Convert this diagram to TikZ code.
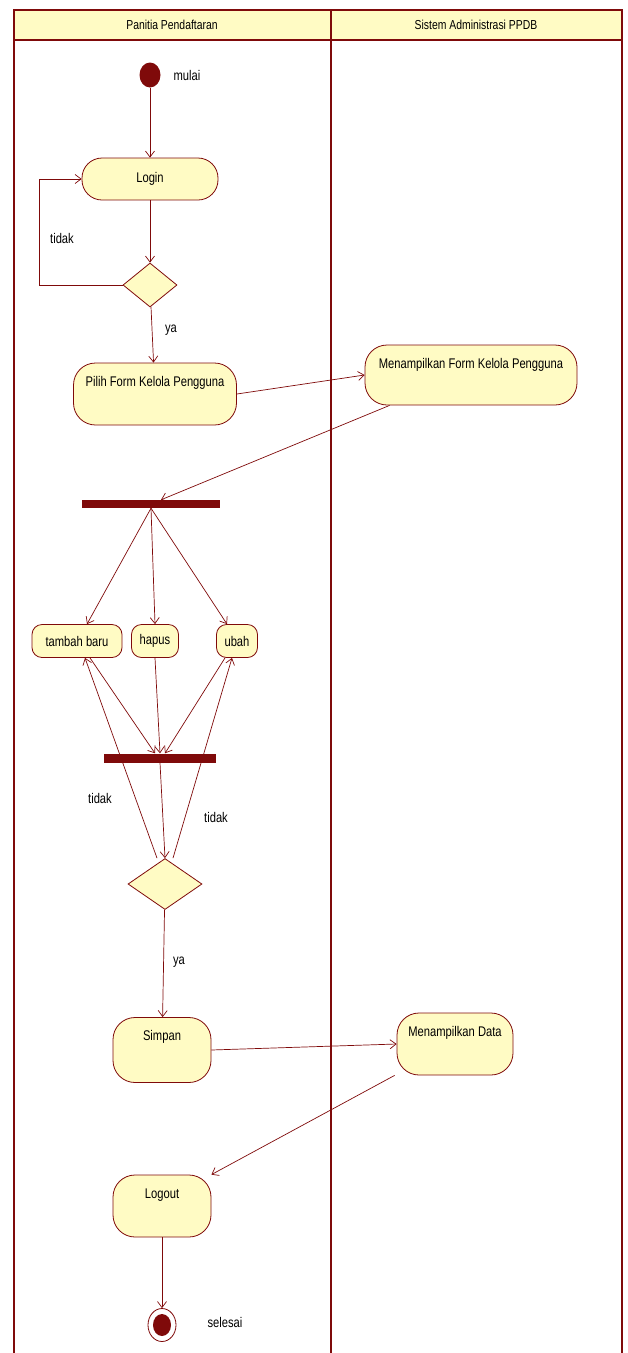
\documentclass[tikz,border=0pt]{standalone}
\usepackage{fontspec}
\setmainfont{Liberation Sans}[FakeStretch=0.8]
\usetikzlibrary{shapes.geometric,arrows.meta}
\definecolor{umlred}{HTML}{7F0A0A}
\definecolor{umlfill}{HTML}{FFFBC4}
\tikzset{
  action/.style={draw=umlred, line width=0.8pt, fill=umlfill, rounded corners=#1,
    inner xsep=3pt, inner ysep=4pt, font=\fontsize{14}{16}\selectfont},
  action/.default=12pt,
  tallact/.style={action=#1, text height=19pt},
  decision/.style={diamond, draw=umlred, line width=0.8pt, fill=umlfill, inner sep=0pt},
  bar/.style={fill=umlred, inner sep=0pt},
  flow/.style={draw=umlred, color=umlred, line width=0.7pt,
    -{Straight Barb[length=6pt,width=9pt]}},
  guard/.style={font=\fontsize{14}{16}\selectfont},
}
\begin{document}
\begin{tikzpicture}[x=1pt,y=-1pt]
\useasboundingbox (0,0) rectangle (628,1353);
% swimlanes
\fill[umlfill] (14,10) rectangle (622,40);
\draw[umlred, line width=2.8pt] (14,1353) -- (14,10) -- (622,10) -- (622,1353);
\draw[umlred, line width=2.8pt] (331,10) -- (331,1353);
\draw[umlred, line width=2.8pt] (14,40) -- (622,40);
\node[font=\fontsize{13}{15}\selectfont] (laneA) at (172,25) {Panitia Pendaftaran};
\node[font=\fontsize{13}{15}\selectfont] (laneB) at (476,25) {Sistem Administrasi PPDB};

% nodes
\node[ellipse, fill=umlred, minimum width=21pt, minimum height=25pt, inner sep=0pt] (start) at (150,75) {};
\node[guard, anchor=west] (mulai) at (170,75) {mulai};
\node[action=20pt, minimum width=136pt, minimum height=42pt] (login) at (150,179) {Login};
\node[decision, minimum width=54pt, minimum height=44pt] (d1) at (150,285) {};
\node[guard] (tidakA) at (62,238) {tidak};
\node[guard] (yaA) at (171,330) {ya};
\node[tallact=22pt, minimum width=163pt, text depth=35pt] (pilih) at (155,394) {Pilih Form Kelola Pengguna};
\node[tallact=22pt, minimum width=212pt, text depth=33pt] (menForm) at (471,375) {Menampilkan Form Kelola Pengguna};
\node[bar, minimum width=138pt, minimum height=8pt] (fork) at (151,504) {};
\node[action=10pt, minimum width=90pt, minimum height=33pt] (tambah) at (77,641) {tambah baru};
\node[action=10pt, minimum width=47pt, minimum height=33pt] (hapus) at (155,641) {hapus};
\node[action=10pt, minimum width=41pt, minimum height=33pt] (ubah) at (237,641) {ubah};
\node[bar, minimum width=112pt, minimum height=9pt] (join) at (160,758) {};
\node[decision, minimum width=74pt, minimum height=51pt] (d2) at (165,884) {};
\node[guard] (tidakB) at (100,798) {tidak};
\node[guard] (tidakC) at (216,817) {tidak};
\node[guard] (yaB) at (179,962) {ya};
\node[tallact=22pt, minimum width=98pt, text depth=38pt] (simpan) at (162,1050) {Simpan};
\node[tallact=22pt, minimum width=116pt, text depth=35pt] (menData) at (455,1044) {Menampilkan Data};
\node[tallact=22pt, minimum width=98pt, text depth=35pt] (logout) at (162,1206) {Logout};
\node[ellipse, draw=umlred, line width=0.8pt, fill=white, minimum width=28pt, minimum height=33pt, inner sep=0pt,
  path picture={\fill[umlred] (path picture bounding box.center) ellipse (9pt and 11pt);}] (end) at (162,1325) {};
\node[guard, anchor=west] (selesai) at (204,1322) {selesai};

% connectors
\draw[flow] (start) -- (login);
\draw[flow] (login) -- (d1);
\draw[flow] (d1.west) -- ++(-83,0) |- (login.west);
\draw[flow] (d1) -- (pilih);
\draw[flow] (pilih.east) -- (menForm.west);
\draw[flow] ([xshift=25pt]menForm.south west) -- ([xshift=10pt]fork.north);
\draw[flow] (fork.south) -- ([xshift=10pt]tambah.north);
\draw[flow] (fork.south) -- (hapus.north);
\draw[flow] (fork.south) -- ([xshift=-10pt]ubah.north);
\draw[flow] ([xshift=13pt]tambah.south) -- ([xshift=-5pt]join.north);
\draw[flow] (hapus.south) -- (join.north);
\draw[flow] ([xshift=-12pt]ubah.south) -- ([xshift=5pt]join.north);
\draw[flow] (join.south) -- (d2.north);
\draw[flow] ([xshift=-8pt]d2.north) -- ([xshift=8pt]tambah.south);
\draw[flow] ([xshift=8pt]d2.north) -- ([xshift=-5pt]ubah.south);
\draw[flow] (d2) -- (simpan);
\draw[flow] (simpan.east) -- (menData.west);
\draw[flow] ([xshift=-2pt]menData.south west) -- (logout.north east);
\draw[flow] (logout) -- (end);
\end{tikzpicture}
\end{document}
